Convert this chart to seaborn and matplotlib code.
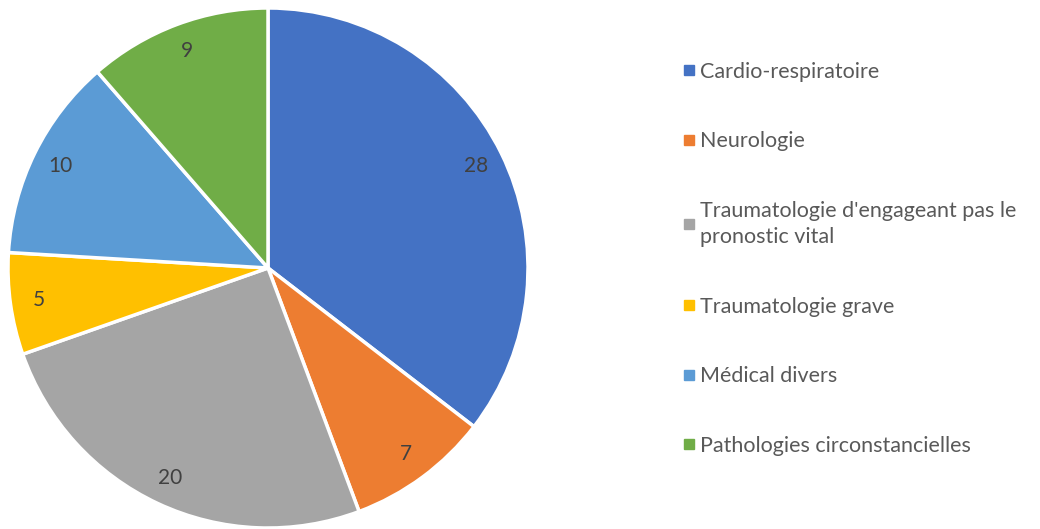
import matplotlib
matplotlib.use("Agg")
import matplotlib.pyplot as plt
import seaborn as sns
from matplotlib.lines import Line2D

sns.set_theme(style="white")
plt.rcParams['font.family'] = ['Lato', 'DejaVu Sans']

categories = ["Cardio-respiratoire", "Neurologie",
              "Traumatologie d'engageant pas le\npronostic vital",
              "Traumatologie grave", "Médical divers",
              "Pathologies circonstancielles"]
values = [28, 7, 20, 5, 10, 9]
colors = ["#4472C4", "#ED7D31", "#A5A5A5", "#FFC000", "#5B9BD5", "#70AD47"]

fig = plt.figure(figsize=(10.4, 5.29), dpi=100)
ax = fig.add_axes([8/1040, 1/529, 520/1040, 520/529])
wedges, texts = ax.pie(values, colors=colors, startangle=90, counterclock=False,
                       labels=[str(v) for v in values], labeldistance=0.89,
                       wedgeprops=dict(edgecolor="white", linewidth=2.5),
                       textprops=dict(fontsize=15, color="#404040"))
for t in texts:
    t.set_horizontalalignment("center")
    t.set_verticalalignment("center")
ax.set_xlim(-1.0, 1.0)
ax.set_ylim(-1.0, 1.0)
ax.set_aspect("equal")
ax.axis("off")

handles = [Line2D([0], [0], marker="s", linestyle="", markersize=7,
                  markerfacecolor=c, markeredgecolor=c) for c in colors]
leg = fig.legend(handles, categories, loc="upper left", bbox_to_anchor=(667/1040, 1 - 51/529),
                 frameon=False, fontsize=15.5, labelspacing=2.3, handletextpad=0.05,
                 handlelength=1.0, borderpad=0)
for t in leg.get_texts():
    t.set_color("#595959")
    t.set_linespacing(1.4)

fig.savefig("out.png", dpi=100)
